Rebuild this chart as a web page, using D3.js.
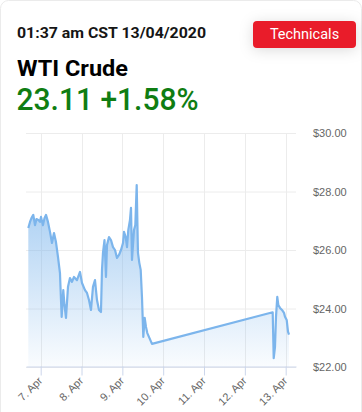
<!DOCTYPE html>
<html>
<head>
<meta charset="utf-8">
<script src="https://cdn.jsdelivr.net/npm/d3@7"></script>
<style>
  html, body { margin: 0; padding: 0; background: #fff; }
  svg { display: block; }
</style>
</head>
<body>
<svg id="chart" width="362" height="412"></svg>
<script>
// ---- Data ----
const timestamp = "01:37 am CST 13/04/2020";
const instrument = "WTI Crude";
const lastPrice = "23.11";
const changePct = "+1.58%";
const buttonLabel = "Technicals";

const times = [
  "2020-04-06 16:43","2020-04-06 17:43","2020-04-06 18:35","2020-04-06 19:39","2020-04-06 20:39",
  "2020-04-06 21:32","2020-04-06 22:35","2020-04-06 23:35","2020-04-07 00:11","2020-04-07 01:21",
  "2020-04-07 02:14","2020-04-07 03:07","2020-04-07 04:17","2020-04-07 05:28","2020-04-07 06:38",
  "2020-04-07 07:49","2020-04-07 08:59","2020-04-07 10:10","2020-04-07 11:20","2020-04-07 11:56",
  "2020-04-07 12:20","2020-04-07 13:17","2020-04-07 13:59","2020-04-07 14:52","2020-04-07 16:03",
  "2020-04-07 17:13","2020-04-07 18:24","2020-04-07 19:34","2020-04-07 21:20","2020-04-07 23:06",
  "2020-04-08 00:17","2020-04-08 02:02","2020-04-08 03:13","2020-04-08 04:23","2020-04-08 05:34",
  "2020-04-08 06:44","2020-04-08 07:55","2020-04-08 09:05","2020-04-08 10:16","2020-04-08 11:26",
  "2020-04-08 12:02","2020-04-08 12:37","2020-04-08 13:30","2020-04-08 14:23","2020-04-08 14:58",
  "2020-04-08 16:09","2020-04-08 17:19","2020-04-08 18:30","2020-04-08 19:41","2020-04-08 20:51",
  "2020-04-08 22:02","2020-04-08 23:12","2020-04-09 00:23","2020-04-09 00:58","2020-04-09 01:58",
  "2020-04-09 02:44","2020-04-09 03:29","2020-04-09 04:29","2020-04-09 05:05","2020-04-09 05:40",
  "2020-04-09 06:50","2020-04-09 07:37","2020-04-09 08:26","2020-04-09 09:11","2020-04-09 09:58",
  "2020-04-09 10:47","2020-04-09 11:32","2020-04-09 12:19","2020-04-09 13:08","2020-04-09 13:54",
  "2020-04-09 14:40","2020-04-09 17:25","2020-04-12 16:22","2020-04-12 16:58","2020-04-12 17:43",
  "2020-04-12 18:19","2020-04-12 19:04","2020-04-12 19:40","2020-04-12 20:40","2020-04-12 21:50",
  "2020-04-12 23:01","2020-04-12 23:36","2020-04-13 00:36","2020-04-13 01:22","2020-04-13 01:57"
];
const prices = [
  26.75,26.96,27.09,27.20,26.85,
  27.06,27.03,26.96,27.13,26.85,
  27.09,27.20,26.96,26.62,26.24,
  26.58,26.27,25.76,25.21,24.29,
  23.71,24.63,24.12,23.68,24.74,
  25.04,24.91,25.08,24.97,25.25,
  24.87,24.63,24.53,24.29,23.95,
  24.74,24.97,24.29,23.95,23.88,
  25.32,25.90,26.34,25.08,26.17,
  26.44,26.34,26.10,26.00,25.73,
  25.83,26.00,26.24,26.62,26.44,
  26.10,26.68,27.03,27.44,25.66,
  26.68,26.85,28.22,25.90,25.56,
  25.32,24.39,23.03,23.68,23.37,
  23.16,22.79,23.87,22.30,22.68,
  23.72,24.40,24.12,24.02,23.95,
  23.85,23.72,23.61,23.21,23.11
];
const xDomain = ["2020-04-06 15:22", "2020-04-13 06:04"];
const yTicks = [22, 24, 26, 28, 30];
const xTickDates = ["2020-04-07","2020-04-08","2020-04-09","2020-04-10","2020-04-11","2020-04-12","2020-04-13"];

// ---- Drawing ----
const parseT = d3.utcParse("%Y-%m-%d %H:%M");
const parseD = d3.utcParse("%Y-%m-%d");
const data = times.map((t, i) => ({ t: parseT(t), v: prices[i] }));

const svg = d3.select("#chart");
const defs = svg.append("defs");

const shadow = defs.append("filter").attr("id", "btnShadow")
  .attr("x", "-40%").attr("y", "-120%").attr("width", "180%").attr("height", "340%");
shadow.append("feDropShadow").attr("dx", 0).attr("dy", 2).attr("stdDeviation", 7)
  .attr("flood-color", "#000").attr("flood-opacity", 0.14);

const grad = defs.append("linearGradient").attr("id", "areaGrad")
  .attr("x1", 0).attr("y1", 0).attr("x2", 0).attr("y2", 1);
grad.append("stop").attr("offset", 0).attr("stop-color", "#7cb5ec").attr("stop-opacity", 0.7);
grad.append("stop").attr("offset", 1).attr("stop-color", "#7cb5ec").attr("stop-opacity", 0.04);

// Card
svg.append("rect").attr("x", 0.5).attr("y", 0.5).attr("width", 361).attr("height", 420)
  .attr("rx", 8).attr("fill", "#fff").attr("stroke", "#ebebeb");

// Header texts
svg.append("text").attr("x", 17).attr("y", 38)
  .attr("font-family", "Roboto").attr("font-weight", 700).attr("font-size", 15.5)
  .attr("textLength", 189).attr("lengthAdjust", "spacingAndGlyphs")
  .attr("fill", "#151515").text(timestamp);
svg.append("text").attr("x", 17).attr("y", 76)
  .attr("font-family", "Roboto").attr("font-weight", 700).attr("font-size", 21.5)
  .attr("textLength", 111).attr("lengthAdjust", "spacingAndGlyphs")
  .attr("fill", "#000").text(instrument);
svg.append("text").attr("x", 16.5).attr("y", 109.5)
  .attr("font-family", "Roboto").attr("font-weight", 500).attr("font-size", 32)
  .attr("textLength", 182).attr("lengthAdjust", "spacingAndGlyphs")
  .attr("fill", "#0f7d12").text(lastPrice + " " + changePct);

// Button
svg.append("rect").attr("x", 253).attr("y", 21).attr("width", 103).attr("height", 27)
  .attr("rx", 4).attr("fill", "#e91d2a").attr("filter", "url(#btnShadow)");
svg.append("text").attr("x", 304.5).attr("y", 39).attr("text-anchor", "middle")
  .attr("font-family", "Roboto").attr("font-size", 14.5).attr("fill", "#fff").text(buttonLabel);

// Scales
const plotL = 26, plotR = 296, plotT = 133, plotB = 367;
const x = d3.scaleUtc().domain(xDomain.map(parseT)).range([plotL, plotR]);
const y = d3.scaleLinear().domain([22, 30]).range([plotB, plotT]);

// Grid lines
const g = svg.append("g");
g.selectAll(".hgrid").data(yTicks).join("line")
  .attr("x1", plotL).attr("x2", plotR)
  .attr("y1", d => y(d) + 0.5).attr("y2", d => y(d) + 0.5)
  .attr("stroke", "#ececec").attr("stroke-width", 1);
const xTicks = xTickDates.map(parseD);
g.selectAll(".vgrid").data(xTicks).join("line")
  .attr("x1", d => Math.round(x(d)) + 0.5).attr("x2", d => Math.round(x(d)) + 0.5)
  .attr("y1", plotT).attr("y2", plotB)
  .attr("stroke", "#ececec").attr("stroke-width", 1);

// Area + line
const area = d3.area().x(d => x(d.t)).y0(plotB).y1(d => y(d.v)).curve(d3.curveLinear);
const line = d3.line().x(d => x(d.t)).y(d => y(d.v)).curve(d3.curveLinear);
svg.append("path").datum(data).attr("d", area).attr("fill", "url(#areaGrad)");
svg.append("path").datum(data).attr("d", line).attr("fill", "none")
  .attr("stroke", "#7cb5ec").attr("stroke-width", 2.2).attr("stroke-linejoin", "round");

// X axis
const xAxis = d3.axisBottom(x).tickValues(xTicks).tickSize(9).tickSizeOuter(0)
  .tickFormat(d3.utcFormat("%-d. %b"));
const xg = svg.append("g").attr("transform", `translate(0,${plotB - 0.5})`).call(xAxis);
xg.select(".domain").attr("stroke", "#ccd6eb");
xg.selectAll(".tick line").attr("stroke", "#ccd6eb");
xg.selectAll(".tick text")
  .attr("font-family", "Liberation Sans, Arial, sans-serif").attr("font-size", 11)
  .attr("fill", "#666").attr("text-anchor", "end")
  .attr("dy", 0).attr("y", 0)
  .attr("transform", "translate(2,15) rotate(-45)");

// Y axis (right side, labels only)
const yAxis = d3.axisRight(y).tickValues(yTicks).tickSize(0)
  .tickFormat(d => "$" + d3.format(".2f")(d));
const yg = svg.append("g").attr("transform", `translate(${plotR + 17},0)`).call(yAxis);
yg.select(".domain").remove();
yg.selectAll(".tick text")
  .attr("x", 0).attr("dy", "0.32em")
  .attr("font-family", "Liberation Sans, Arial, sans-serif").attr("font-size", 11)
  .attr("fill", "#666").attr("text-anchor", "start");
</script>
</body>
</html>
